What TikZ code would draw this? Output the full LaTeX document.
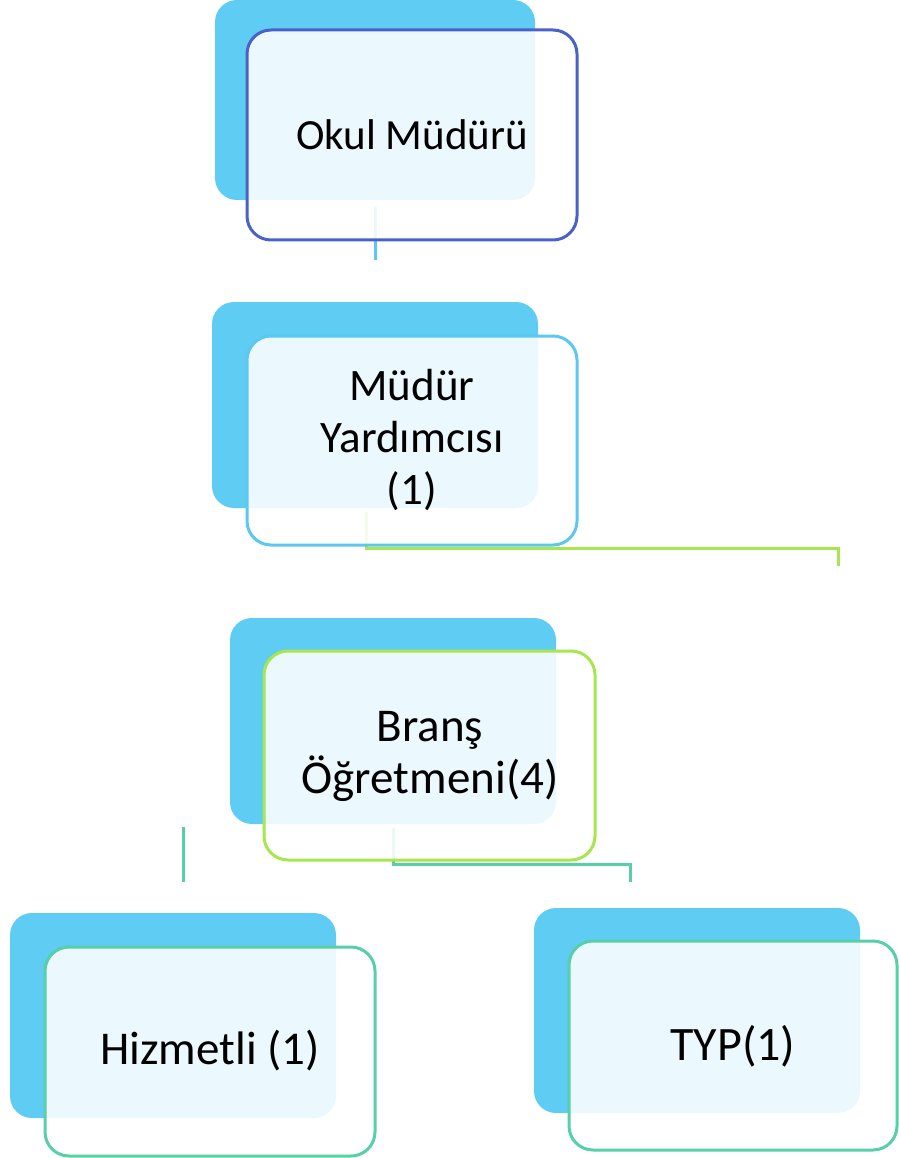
\documentclass[tikz,border=0pt]{standalone}
\usepackage{fontspec}
\setmainfont{Carlito}
\usetikzlibrary{calc}

\definecolor{skyback}{HTML}{5FCCF4}
\definecolor{indigoline}{HTML}{4A62C8}
\definecolor{blueline}{HTML}{5CC8F0}
\definecolor{greenline}{HTML}{A8E64E}
\definecolor{tealline}{HTML}{57D0A5}

\tikzset{
  backbox/.style={fill=skyback, rounded corners=22pt},
  frontbox/.style={draw=#1, fill=white, fill opacity=0.88, line width=3pt, rounded corners=24pt},
  link/.style={draw=#1, line width=3pt},
  boxtext/.style={align=center, inner sep=0pt, font=\fontsize{#1}{52}\selectfont},
  boxtext/.default=43,
}

\begin{document}
\begin{tikzpicture}[x=1pt, y=-1pt] % 1 unit = 1 pixel of the chart
\useasboundingbox (0,0) rectangle (898,1158);
% back boxes
\fill [backbox] (215,0) rectangle (535,200);
\fill [backbox] (212,302) rectangle (538,508);
\fill [backbox] (230,618) rectangle (556,824);
\fill [backbox] (10,913) rectangle (336,1118);
\fill [backbox] (534,908) rectangle (860,1113);
% connector ends
\coordinate (okultop) at (375,207);
\coordinate (okulend) at (375,260);
\coordinate (yrdtop) at (366,512);
\coordinate (yrdend) at (838,566);
\coordinate (bransleft) at (183,827);
\coordinate (bransleftend) at (183,882);
\coordinate (branstop) at (393,828);
\coordinate (bransend) at (630,882);
% connectors
\draw [link=blueline] (okultop) -- (okulend);
\draw [link=greenline] (yrdtop) -- ($(yrdtop)+(0,36)$) -| (yrdend);
\draw [link=tealline] (bransleft) -- (bransleftend);
\draw [link=tealline] (branstop) -- ($(branstop)+(0,36)$) -| (bransend);
% front boxes
\draw [frontbox=indigoline] (247,30) rectangle (577,240);
\draw [frontbox=blueline] (247,336) rectangle (577,545);
\draw [frontbox=greenline] (264,651) rectangle (595,860);
\draw [frontbox=tealline] (45,947) rectangle (375,1156);
\draw [frontbox=tealline] (569,941) rectangle (897,1150);
% texts
\node [boxtext] (okul) at ($(247,30)+(165,105)$) {Okul Müdürü};
\node [boxtext=45] (yardimci) at ($(247,336)+(165,104)$) {Müdür\\Yardımcısı\\(1)};
\node [boxtext=47] (brans) at ($(264,651)+(166,105)$) {Branş\\Öğretmeni(4)};
\node [boxtext=47] (hizmetli) at ($(45,947)+(165,104)$) {Hizmetli (1)};
\node [boxtext=48] (typ) at ($(569,941)+(164,105)$) {TYP(1)};
\end{tikzpicture}
\end{document}
